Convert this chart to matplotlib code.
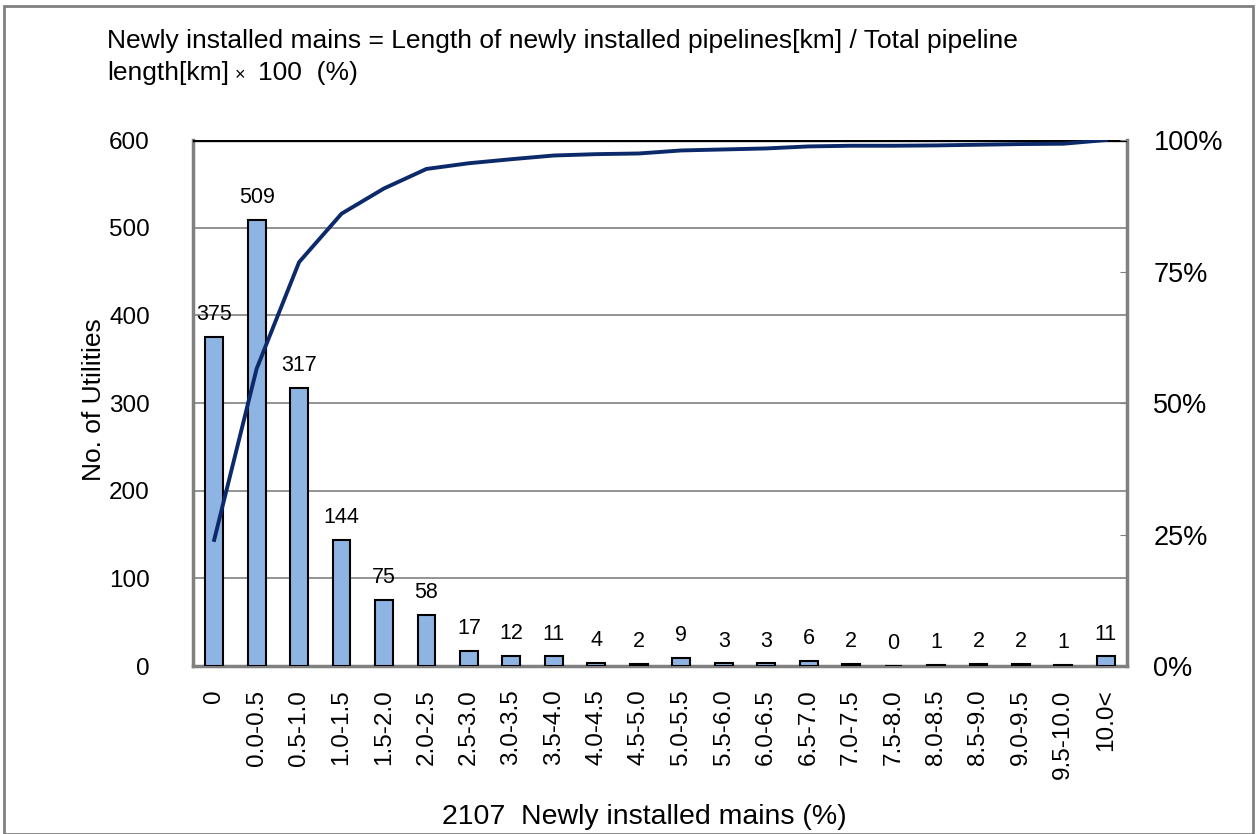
import matplotlib.pyplot as plt
import numpy as np
from matplotlib.patches import Rectangle
from matplotlib.ticker import FuncFormatter

plt.rcParams['font.family'] = ['Liberation Sans', 'DejaVu Sans']

categories = ['0', '0.0-0.5', '0.5-1.0', '1.0-1.5', '1.5-2.0', '2.0-2.5', '2.5-3.0',
              '3.0-3.5', '3.5-4.0', '4.0-4.5', '4.5-5.0', '5.0-5.5', '5.5-6.0',
              '6.0-6.5', '6.5-7.0', '7.0-7.5', '7.5-8.0', '8.0-8.5', '8.5-9.0',
              '9.0-9.5', '9.5-10.0', '10.0<']
counts = [375, 509, 317, 144, 75, 58, 17, 12, 11, 4, 2, 9, 3, 3, 6, 2, 0, 1, 2, 2, 1, 11]
left_ticks = [0, 100, 200, 300, 400, 500, 600]
right_ticks = [0, 0.25, 0.5, 0.75, 1.0]

counts = np.array(counts)
cum = np.cumsum(counts) / counts.sum()
x = np.arange(len(categories))

fig = plt.figure(figsize=(12.57, 8.34), dpi=100)
ax = fig.add_axes([0.1535, 0.2014, 0.8966 - 0.1535, 0.8321 - 0.2014])

ax.bar(x, counts, width=0.42, color='#8EB4E3', edgecolor='black', linewidth=1.5, zorder=3)
for xi, c in zip(x, counts):
    ax.annotate(str(c), (xi, c), xytext=(0, 8.5), textcoords='offset points',
                ha='center', va='bottom', fontsize=15.5)

ax.set_xlim(-0.5, len(categories) - 0.5)
ax.set_ylim(0, 600)
ax.set_yticks(left_ticks)
ax.set_xticks(x)
ax.set_xticklabels(categories, rotation=90, fontsize=17.5)
ax.tick_params(axis='y', labelsize=17.5, length=0, pad=31)
ax.tick_params(axis='x', length=0, pad=17)
ax.yaxis.grid(True, color='#808080', linewidth=1.2, zorder=0)
ax.axhline(600, color='black', linewidth=2.4, zorder=4)
for s in ['left', 'bottom', 'right']:
    ax.spines[s].set_color('#808080')
    ax.spines[s].set_linewidth(2.5)
ax.spines['top'].set_visible(False)

ax2 = ax.twinx()
ax2.plot(x, cum, color='#0C2A6A', linewidth=2.8, zorder=5)
ax2.set_ylim(0, 1)
ax2.set_yticks(right_ticks)
ax2.yaxis.set_major_formatter(FuncFormatter(lambda v, p: f'{v:.0%}'))
ax2.tick_params(axis='y', labelsize=19.5, direction='in', length=5, color='#808080', pad=19)
for s in ax2.spines.values():
    s.set_visible(False)

# axis titles and the formula note
fig.text(94 / 1257, 1 - 400 / 834, 'No. of Utilities', rotation=90, fontsize=19,
         ha='center', va='center')
fig.text(644 / 1257, 1 - 817 / 834, '2107  Newly installed mains (%)', fontsize=20.5,
         ha='center', va='center')
fig.text(107 / 1257, 1 - 48 / 834,
         'Newly installed mains = Length of newly installed pipelines[km] / Total pipeline',
         fontsize=19, ha='left', va='baseline')
fig.text(107 / 1257, 1 - 80 / 834, 'length[km]', fontsize=19, ha='left', va='baseline')
fig.text(240 / 1257, 1 - 76 / 834, '\u00d7', fontsize=13, ha='center', va='center')
fig.text(258 / 1257, 1 - 80 / 834, '100  (%)', fontsize=19, ha='left', va='baseline')

fig.patches.append(Rectangle((0.003, 0.0), 0.994, 0.993, transform=fig.transFigure,
                             fill=False, edgecolor='#808080', linewidth=2))

plt.savefig('out.png', dpi=100)
